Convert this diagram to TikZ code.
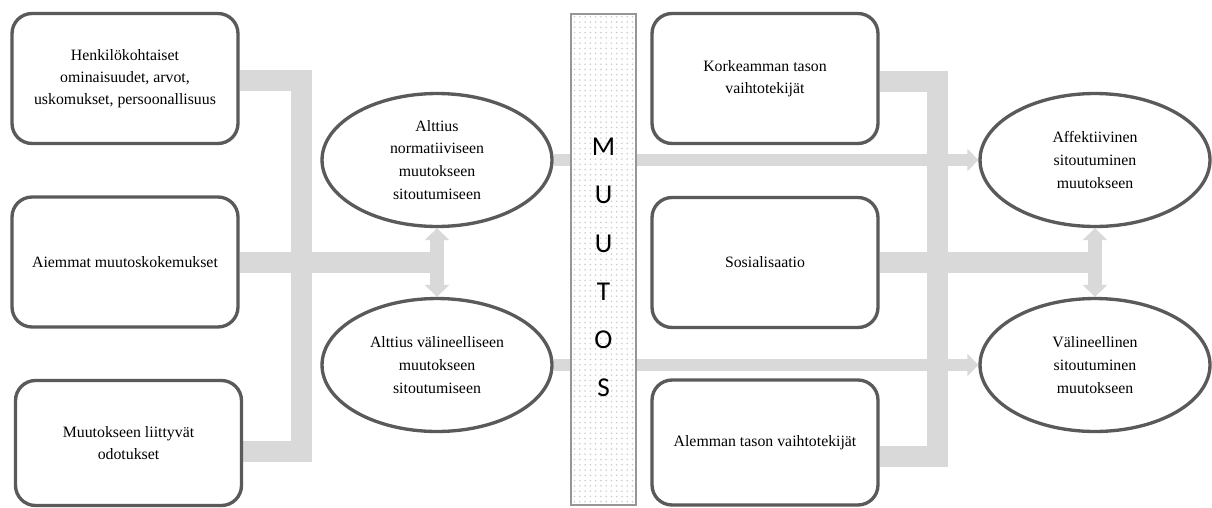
\documentclass[tikz,border=0pt]{standalone}
\usepackage{fontspec}
\setmainfont{Liberation Serif}
\newfontfamily\muutosfont{Carlito}
\usetikzlibrary{arrows.meta,shapes.geometric,patterns,backgrounds,calc}
\definecolor{busgray}{RGB}{217,217,217}
\definecolor{edgegray}{RGB}{90,90,90}
\definecolor{bargray}{RGB}{150,150,150}
\tikzset{
  factor/.style={draw=edgegray, line width=1.9pt, rounded corners=0.4cm, fill=white,
    minimum width=4.52cm, minimum height=2.6cm, align=center, font=\fontsize{9}{12.5}\selectfont},
  outcome/.style={ellipse, draw=edgegray, line width=1.9pt, fill=white, inner sep=0pt,
    minimum width=4.6cm, minimum height=2.66cm, align=center, font=\fontsize{9}{13}\selectfont},
  bus/.style={draw=busgray, line width=0.42cm, line join=miter},
  flow/.style={draw=busgray, line width=0.23cm, -{Triangle[width=0.44cm,length=0.22cm]}},
  twoway/.style={draw=busgray, line width=0.28cm,
    {Triangle[width=0.48cm,length=0.24cm]}-{Triangle[width=0.48cm,length=0.24cm]}},
  changebar/.style={draw=bargray, line width=0.8pt, minimum width=1.3cm, minimum height=9.82cm,
    preaction={fill=white}, pattern=dots, pattern color=gray!40}
}
\begin{document}
\begin{tikzpicture}[x=0.02cm,y=-0.02cm]
\useasboundingbox (0,0) rectangle (1212,507);
\node[factor] (h1) at (125,78.5) {Henkilökohtaiset\\ominaisuudet, arvot,\\uskomukset, persoonallisuus};
\node[factor] (h2) at (125,262) {Aiemmat muutoskokemukset};
\node[factor, minimum height=2.5cm] (h3) at (128.5,443) {Muutokseen liittyvät\\odotukset};
\node[outcome] (e1) at (437,160) {Alttius\\normatiiviseen\\muutokseen\\sitoutumiseen};
\node[outcome] (e2) at (437,365) {Alttius välineelliseen\\muutokseen\\sitoutumiseen};
\node[changebar] (muutos) at (603.5,259.5) {};
\node[font=\muutosfont\fontsize{15.5}{27.4}\selectfont, align=center] (muutosteksti) at (603.5,267.5) {M\\U\\U\\T\\O\\S};
\node[factor] (k) at (765,78.5) {Korkeamman tason\\vaihtotekijät};
\node[factor] (s) at (765,262.5) {Sosialisaatio};
\node[factor, minimum height=2.5cm] (l) at (765,442.5) {Alemman tason vaihtotekijät};
\node[outcome] (a1) at (1095,160) {Affektiivinen\\sitoutuminen\\muutokseen};
\node[outcome] (v1) at (1095,365) {Välineellinen\\sitoutuminen\\muutokseen};
\begin{scope}[on background layer]
\coordinate (vasen) at (301,264);
\coordinate (oikea) at (937,264);
\draw[bus] ($(h1.east)+(0,2)$) -| (vasen) |- ($(h3.east)+(0,8)$);
\draw[bus] (h2.east) -- (h2.east -| e1.south);
\draw[twoway] (e1.south) -- (e2.north);
\draw[flow] (e1) -- (a1);
\draw[flow] (e2) -- (v1);
\draw[bus] ($(k.east)+(0,3)$) -| (oikea) |- ($(l.east)+(0,13.5)$);
\draw[bus] (s.east) -- (s.east -| a1.south);
\draw[twoway] (a1.south) -- (v1.north);
\end{scope}
\end{tikzpicture}
\end{document}
